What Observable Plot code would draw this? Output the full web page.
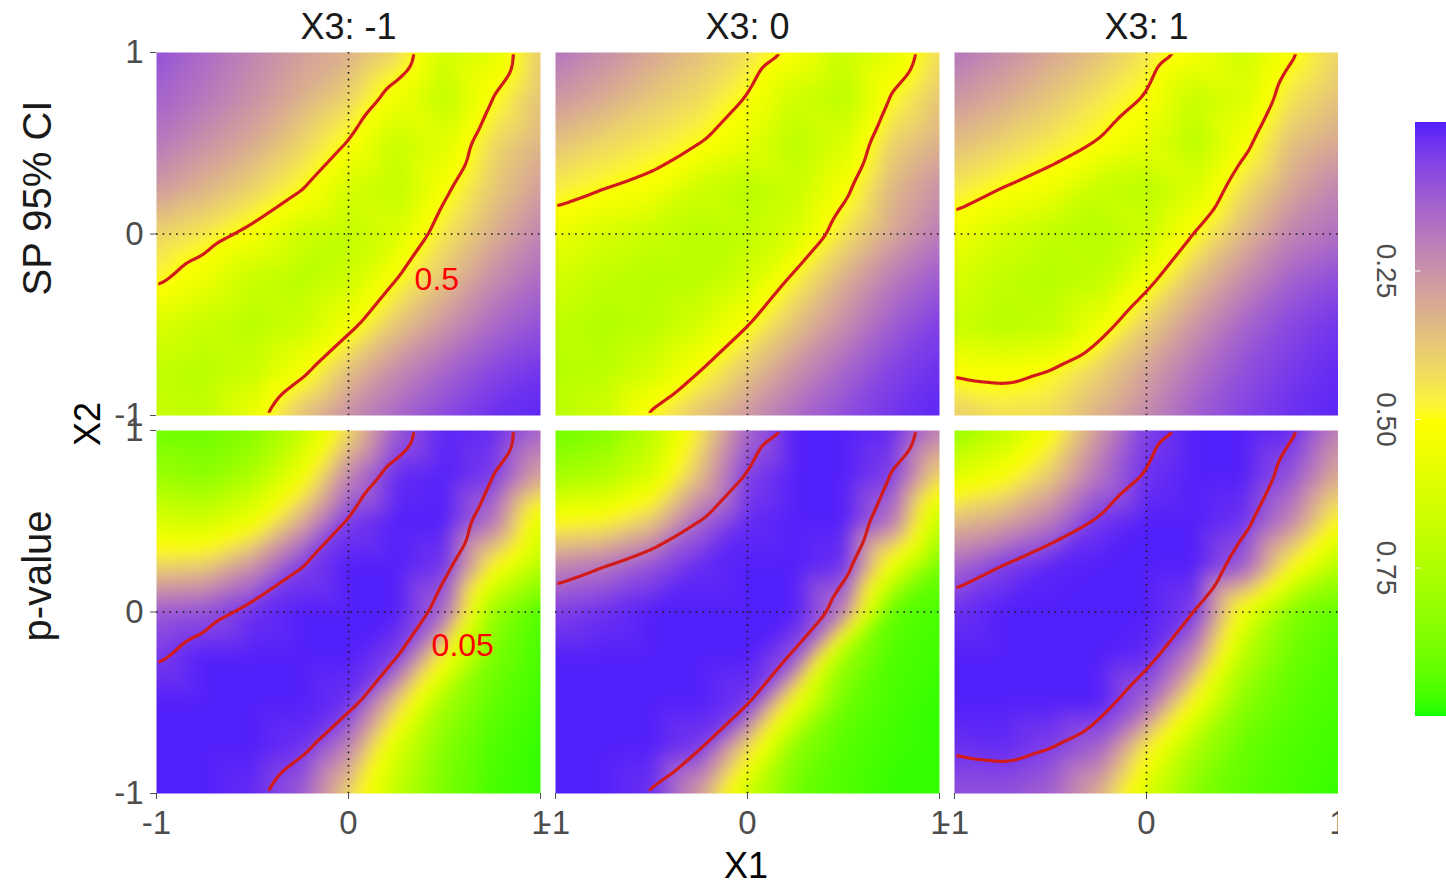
<!DOCTYPE html>
<html>
<head>
<meta charset="utf-8">
<script src="https://cdn.jsdelivr.net/npm/d3@7"></script>
<script src="https://cdn.jsdelivr.net/npm/@observablehq/plot@0.6"></script>
<style>
  html, body { margin: 0; padding: 0; background: #ffffff; }
  #wrap { position: relative; width: 1446px; height: 885px; overflow: hidden; font-family: "Liberation Sans", Arial, sans-serif; }
  #main { position: absolute; left: 0; top: 0; }
  #legend { position: absolute; left: 1370px; top: 0; }
  .title { position: absolute; font-size: 36px; color: #000; white-space: nowrap; line-height: 1; }
</style>
</head>
<body>
<div id="wrap">
  <div id="main"></div>
  <div id="legend"></div>
  <div class="title" id="xt" style="left:746px; top:866px; transform: translate(-50%,-50%);">X1</div>
  <div class="title" id="yt" style="left:88px; top:424px; transform: translate(-50%,-50%) rotate(-90deg);">X2</div>
</div>
<script>
// ---- grid coordinates (X1 across, X2 down from top) ----
const xs = [-1, -0.75, -0.5, -0.25, 0, 0.25, 0.5, 0.75, 1];
const ys = [1, 0.75, 0.5, 0.25, 0, -0.25, -0.5, -0.75, -1];

// ---- facet categories ----
const x3Labels = ["X3: -1", "X3: 0", "X3: 1"];
const rowLabels = ["SP 95% CI", "p-value"];

// ---- SP 95% CI values (rows: X2 = 1 ... -1, cols: X1 = -1 ... 1) ----
const spM1 = [
  [0.10, 0.16, 0.22, 0.28, 0.32, 0.41, 0.65, 0.595, 0.38],
  [0.14, 0.19, 0.25, 0.32, 0.40, 0.55, 0.70, 0.50, 0.36],
  [0.19, 0.25, 0.31, 0.40, 0.505, 0.68, 0.60, 0.42, 0.33],
  [0.27, 0.33, 0.40, 0.49, 0.64, 0.70, 0.52, 0.38, 0.28],
  [0.40, 0.45, 0.53, 0.66, 0.70, 0.62, 0.44, 0.32, 0.22],
  [0.48, 0.56, 0.68, 0.72, 0.66, 0.50, 0.36, 0.24, 0.16],
  [0.615, 0.68, 0.72, 0.68, 0.537, 0.37, 0.26, 0.16, 0.10],
  [0.70, 0.72, 0.68, 0.535, 0.36, 0.24, 0.15, 0.08, 0.04],
  [0.68, 0.70, 0.555, 0.36, 0.24, 0.15, 0.08, 0.03, 0.01]
];
const sp0 = [
  [0.18, 0.24, 0.30, 0.36, 0.43, 0.52, 0.68, 0.5875, 0.42],
  [0.26, 0.31, 0.37, 0.42, 0.505, 0.66, 0.72, 0.49, 0.37],
  [0.36, 0.41, 0.45, 0.495, 0.58, 0.72, 0.62, 0.40, 0.32],
  [0.46, 0.497, 0.53, 0.66, 0.72, 0.68, 0.53, 0.34, 0.25],
  [0.56, 0.63, 0.68, 0.72, 0.70, 0.62, 0.437, 0.30, 0.20],
  [0.64, 0.70, 0.73, 0.72, 0.64, 0.47, 0.32, 0.20, 0.12],
  [0.70, 0.74, 0.72, 0.64, 0.505, 0.36, 0.24, 0.13, 0.06],
  [0.73, 0.72, 0.64, 0.505, 0.37, 0.25, 0.15, 0.07, 0.03],
  [0.72, 0.66, 0.48, 0.36, 0.26, 0.16, 0.09, 0.04, 0.01]
];
const spP1 = [
  [0.18, 0.24, 0.30, 0.36, 0.44, 0.53, 0.66, 0.516, 0.40],
  [0.26, 0.31, 0.37, 0.44, 0.507, 0.68, 0.62, 0.44, 0.36],
  [0.35, 0.40, 0.45, 0.505, 0.58, 0.72, 0.535, 0.36, 0.30],
  [0.45, 0.501, 0.55, 0.68, 0.72, 0.62, 0.43, 0.30, 0.22],
  [0.55, 0.64, 0.70, 0.73, 0.66, 0.497, 0.34, 0.22, 0.17],
  [0.62, 0.70, 0.73, 0.70, 0.54, 0.36, 0.24, 0.14, 0.09],
  [0.68, 0.72, 0.70, 0.56, 0.39, 0.26, 0.15, 0.08, 0.04],
  [0.52, 0.53, 0.497, 0.40, 0.29, 0.18, 0.10, 0.05, 0.02],
  [0.38, 0.43, 0.42, 0.32, 0.23, 0.13, 0.07, 0.03, 0.01]
];

// ---- p-values (same layout) ----
const pM1 = [
  [0.90, 0.90, 0.85, 0.70, 0.42, 0.12, 0.01, 0.02, 0.15],
  [0.80, 0.84, 0.75, 0.55, 0.22, 0.02, 0.00, 0.05, 0.30],
  [0.62, 0.65, 0.55, 0.32, 0.05, 0.00, 0.00, 0.18, 0.60],
  [0.40, 0.38, 0.25, 0.06, 0.00, 0.00, 0.04, 0.48, 0.74],
  [0.12, 0.10, 0.03, 0.00, 0.00, 0.00, 0.15, 0.80, 0.95],
  [0.05, 0.00, 0.00, 0.00, 0.00, 0.06, 0.50, 0.88, 0.96],
  [0.00, 0.00, 0.00, 0.00, 0.03, 0.38, 0.78, 0.92, 0.97],
  [0.00, 0.00, 0.00, 0.03, 0.22, 0.62, 0.86, 0.95, 0.98],
  [0.00, 0.00, 0.02, 0.12, 0.40, 0.70, 0.88, 0.96, 0.98]
];
const p0 = [
  [0.90, 0.86, 0.72, 0.45, 0.15, 0.00, 0.00, 0.02, 0.22],
  [0.78, 0.74, 0.62, 0.35, 0.06, 0.00, 0.00, 0.06, 0.42],
  [0.50, 0.48, 0.38, 0.15, 0.02, 0.00, 0.00, 0.18, 0.70],
  [0.22, 0.18, 0.10, 0.02, 0.00, 0.00, 0.03, 0.56, 0.90],
  [0.06, 0.03, 0.00, 0.00, 0.00, 0.00, 0.20, 0.92, 0.96],
  [0.00, 0.00, 0.00, 0.00, 0.00, 0.10, 0.80, 0.95, 0.97],
  [0.00, 0.00, 0.00, 0.00, 0.04, 0.55, 0.90, 0.96, 0.98],
  [0.00, 0.00, 0.00, 0.05, 0.42, 0.84, 0.94, 0.97, 0.98],
  [0.00, 0.00, 0.03, 0.28, 0.66, 0.90, 0.95, 0.98, 0.98]
];
const pP1 = [
  [0.82, 0.70, 0.52, 0.27, 0.06, 0.00, 0.00, 0.02, 0.22],
  [0.60, 0.52, 0.38, 0.18, 0.03, 0.00, 0.00, 0.10, 0.32],
  [0.35, 0.30, 0.20, 0.04, 0.00, 0.00, 0.03, 0.22, 0.50],
  [0.15, 0.06, 0.01, 0.00, 0.00, 0.00, 0.12, 0.48, 0.74],
  [0.03, 0.00, 0.00, 0.00, 0.00, 0.05, 0.55, 0.85, 0.93],
  [0.00, 0.00, 0.00, 0.00, 0.02, 0.24, 0.72, 0.90, 0.95],
  [0.00, 0.00, 0.00, 0.00, 0.14, 0.52, 0.84, 0.93, 0.96],
  [0.03, 0.02, 0.06, 0.14, 0.46, 0.76, 0.91, 0.95, 0.97],
  [0.10, 0.10, 0.14, 0.32, 0.62, 0.85, 0.93, 0.96, 0.98]
];

// ---- contour levels, labels, axis ticks ----
const spLevel = [0.5];
const contourLabels = [
  {X3: "X3: -1", metric: "SP 95% CI", x: 0.46, y: -0.25, label: "0.5"},
  {X3: "X3: -1", metric: "p-value", x: 0.595, y: -0.185, label: "0.05"}
];
const axisTicks = [-1, 0, 1];
const legendTicks = [0.25, 0.5, 0.75];

// ---- build tables ----
function grid(values, X3, metric) {
  const out = [];
  values.forEach((row, i) => row.forEach((v, j) => out.push({X3, metric, x: xs[j], y: ys[i], value: v})));
  return out;
}
const spTable = [
  ...grid(spM1, x3Labels[0], rowLabels[0]),
  ...grid(sp0, x3Labels[1], rowLabels[0]),
  ...grid(spP1, x3Labels[2], rowLabels[0])
];
const pTable = [
  ...grid(pM1, x3Labels[0], rowLabels[1]),
  ...grid(p0, x3Labels[1], rowLabels[1]),
  ...grid(pP1, x3Labels[2], rowLabels[1])
];

const colorOpts = {
  type: "linear",
  domain: [0, 0.5, 1],
  range: ["#5220fa", "#ffff00", "#12ff00"],
  interpolate: "lab",
  clamp: true
};
const FONT = "Liberation Sans, Arial, Helvetica, sans-serif";
const lineColor = "#d11a1a";
const bounds = {x1: -1, x2: 1, y1: -1, y2: 1};

const main = Plot.plot({
  width: 1338,
  height: 885,
  marginLeft: 156,
  marginRight: 0,
  marginTop: 52,
  marginBottom: 91,
  style: {fontFamily: FONT, overflow: "hidden", background: "transparent"},
  x: {domain: [-1, 1]},
  y: {domain: [-1, 1]},
  fx: {domain: x3Labels, paddingInner: 0.0376, paddingOuter: 0},
  fy: {domain: rowLabels, paddingInner: 0.0386, paddingOuter: 0, axis: null},
  color: colorOpts,
  marks: [
    Plot.raster(spTable, {x: "x", y: "y", fill: "value", fx: "X3", fy: "metric", ...bounds,
      interpolate: "barycentric", pixelSize: 1, blur: 6}),
    Plot.raster(pTable, {x: "x", y: "y", fill: "value", fx: "X3", fy: "metric", ...bounds,
      interpolate: "barycentric", pixelSize: 1, blur: 7}),
    Plot.ruleX([0], {stroke: "#1a1a1a", strokeWidth: 1.6, strokeDasharray: "1.6 5.1"}),
    Plot.ruleY([0], {stroke: "#1a1a1a", strokeWidth: 1.6, strokeDasharray: "1.6 5.1"}),
    // SP = 0.5 contour (top row); the p = 0.05 contour coincides with it (bottom row)
    Plot.contour(spTable, {x: "x", y: "y", value: "value", fx: "X3", fy: "metric", thresholds: spLevel, ...bounds,
      clip: "frame", interpolate: "barycentric", pixelSize: 1, blur: 5, stroke: lineColor, strokeWidth: 3.2, fill: "none"}),
    Plot.contour(spTable, {x: "x", y: "y", value: "value", fx: "X3", fy: () => rowLabels[1], thresholds: spLevel, ...bounds,
      clip: "frame", interpolate: "barycentric", pixelSize: 1, blur: 5, stroke: lineColor, strokeWidth: 3.2, fill: "none"}),
    Plot.text(contourLabels, {x: "x", y: "y", text: "label", fx: "X3", fy: "metric", fill: "#ff0000", fontSize: 32}),
    Plot.axisX({ticks: axisTicks, tickFormat: d => String(d), tickSize: 6, tickPadding: 11, fontSize: 33, color: "#4d4d4d", label: null}),
    Plot.axisY({ticks: axisTicks, tickFormat: d => String(d), tickSize: 6, tickPadding: 7, fontSize: 33, color: "#4d4d4d", label: null}),
    Plot.axisFx({anchor: "top", tickSize: 0, tickPadding: 14, fontSize: 36, color: "#1a1a1a", label: null}),
    Plot.text(rowLabels, {fy: d => d, fx: () => x3Labels[0], text: d => d, frameAnchor: "left", textAnchor: "middle",
      dx: -118, dy: -36, rotate: -90, fontSize: 40, fill: "#1a1a1a"})
  ]
});
// inset the contour clip a little so the ring segments lying on the panel border are hidden
main.querySelectorAll("clipPath rect").forEach(r => {
  const x = +r.getAttribute("x"), y = +r.getAttribute("y");
  const w = +r.getAttribute("width"), h = +r.getAttribute("height");
  if (isFinite(x) && isFinite(w) && w > 10) {
    r.setAttribute("x", x + 2.3); r.setAttribute("y", y + 2.3);
    r.setAttribute("width", w - 4.6); r.setAttribute("height", h - 4.6);
  }
});
document.getElementById("main").appendChild(main);

// ---- colour bar legend ----
const steps = d3.range(0, 1, 0.002);
const legend = Plot.plot({
  width: 76,
  height: 885,
  marginLeft: 45,
  marginRight: 0,
  marginTop: 122,
  marginBottom: 169,
  style: {fontFamily: FONT, overflow: "visible", background: "transparent"},
  x: {domain: [0, 1], axis: null},
  y: {domain: [0, 1], reverse: true, axis: null},
  color: colorOpts,
  marks: [
    Plot.rect(steps, {x1: 0, x2: 1, y1: d => d, y2: d => d + 0.0025, fill: d => d, shapeRendering: "crispEdges"}),
    Plot.ruleY(legendTicks, {x1: 0, x2: 0.18, stroke: "white", strokeWidth: 1}),
    Plot.text(legendTicks, {y: d => d, text: d => d.toFixed(2), frameAnchor: "left", textAnchor: "middle",
      dx: -30, rotate: 90, fontSize: 28, fill: "#4d4d4d"})
  ]
});
document.getElementById("legend").appendChild(legend);
</script>
</body>
</html>
